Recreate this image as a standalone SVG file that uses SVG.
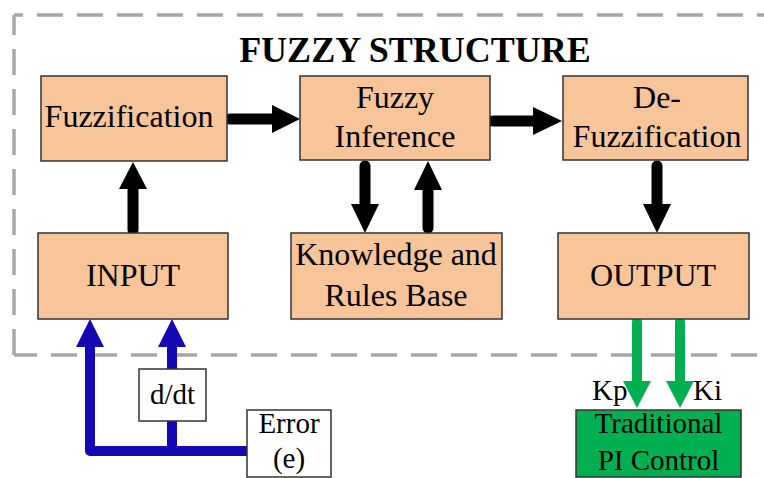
<svg xmlns="http://www.w3.org/2000/svg" width="764" height="478" viewBox="0 0 764 478">
<style>
  .box { fill: #F8C59B; stroke: #333333; stroke-width: 1.5; }
  .wbox { fill: #FFFFFF; stroke: #333333; stroke-width: 1.5; }
  .gbox { fill: #00B050; stroke: #333333; stroke-width: 1.5; }
  .lbl { font-family: "Liberation Serif", "Times New Roman", serif; font-size: 32px; fill: #000; text-anchor: middle; }
  .sm { font-family: "Liberation Serif", "Times New Roman", serif; font-size: 29px; fill: #000; }
  .title { font-family: "Liberation Serif", "Times New Roman", serif; font-size: 36px; font-weight: bold; fill: #000; text-anchor: middle; }
  .dash { fill: none; stroke: #A6A6A6; stroke-width: 3.5; stroke-dasharray: 26 14; }
  .blk { stroke: #000; stroke-width: 11; stroke-linecap: round; fill: none; }
  .blkh { fill: #000; }
  .blu { stroke: #1408B4; stroke-width: 10; stroke-linecap: round; stroke-linejoin: round; fill: none; }
  .bluh { fill: #1408B4; }
  .grn { stroke: #00B050; stroke-width: 10; stroke-linecap: round; fill: none; }
  .grnh { fill: #00B050; }
</style>

<g id="frame">
  <path class="dash" d="M14,355 V15" stroke-dashoffset="0"/>
  <path class="dash" d="M14,15 H800" stroke-dashoffset="17"/>
  <path class="dash" d="M14,355 H800" stroke-dashoffset="3"/>
  <text class="title" x="415" y="62">FUZZY STRUCTURE</text>
</g>

<g id="connectors">
  <line class="blk" x1="230" y1="119" x2="276" y2="119"/>
  <polygon class="blkh" points="272,105 300,119 272,133"/>
  <line class="blk" x1="493" y1="121" x2="537" y2="121"/>
  <polygon class="blkh" points="533,107 562,121 533,135"/>
  <line class="blk" x1="133" y1="230" x2="133" y2="186"/>
  <polygon class="blkh" points="119,189 133,162 147,189"/>
  <line class="blk" x1="365" y1="166" x2="365" y2="208"/>
  <polygon class="blkh" points="351,204 365,233 379,204"/>
  <line class="blk" x1="428" y1="228" x2="428" y2="186"/>
  <polygon class="blkh" points="414,190 428,161 442,190"/>
  <line class="blk" x1="657" y1="166" x2="657" y2="208"/>
  <polygon class="blkh" points="643,204 657,233 671,204"/>

  <path class="blu" d="M247,451 H90 V343"/>
  <polygon class="bluh" points="76,347 90,319 104,347"/>
  <path class="blu" d="M172,451 V343"/>
  <polygon class="bluh" points="158,347 172,319 186,347"/>

  <line class="grn" x1="637" y1="322" x2="637" y2="385"/>
  <polygon class="grnh" points="623,381 637,408 651,381"/>
  <line class="grn" x1="680" y1="322" x2="680" y2="385"/>
  <polygon class="grnh" points="666,381 680,408 694,381"/>
</g>

<g id="fuzzification">
  <rect class="box" x="41" y="76" width="186" height="85"/>
  <text class="lbl" x="129" y="127">Fuzzification</text>
</g>
<g id="fuzzy-inference">
  <rect class="box" x="300" y="76" width="190" height="84"/>
  <text class="lbl" x="395" y="108">Fuzzy</text>
  <text class="lbl" x="395" y="147">Inference</text>
</g>
<g id="de-fuzzification">
  <rect class="box" x="563" y="76" width="185" height="84"/>
  <text class="lbl" x="657" y="108">De-</text>
  <text class="lbl" x="657" y="147">Fuzzification</text>
</g>
<g id="input">
  <rect class="box" x="38" y="233" width="190" height="86"/>
  <text class="lbl" x="133" y="286">INPUT</text>
</g>
<g id="knowledge">
  <rect class="box" x="291" y="233" width="211" height="86"/>
  <text class="lbl" x="396" y="265">Knowledge and</text>
  <text class="lbl" x="396" y="306">Rules Base</text>
</g>
<g id="output">
  <rect class="box" x="558" y="233" width="191" height="86"/>
  <text class="lbl" x="653" y="286">OUTPUT</text>
</g>
<g id="ddt">
  <rect class="wbox" x="139" y="369" width="67" height="52"/>
  <text class="sm" x="172.5" y="404" text-anchor="middle" font-size="30">d/dt</text>
</g>
<g id="error">
  <rect class="wbox" x="247" y="410" width="84" height="67"/>
  <text class="sm" x="289" y="433" text-anchor="middle">Error</text>
  <text class="sm" x="289" y="468" text-anchor="middle">(e)</text>
</g>
<g id="pi-control">
  <rect class="gbox" x="576" y="410" width="165" height="67"/>
  <text class="sm" x="658.5" y="433" text-anchor="middle">Traditional</text>
  <text class="sm" x="658.5" y="470" text-anchor="middle">PI Control</text>
</g>
<g id="gain-labels">
  <text class="sm" x="592" y="400">Kp</text>
  <text class="sm" x="693" y="400">Ki</text>
</g>
</svg>
